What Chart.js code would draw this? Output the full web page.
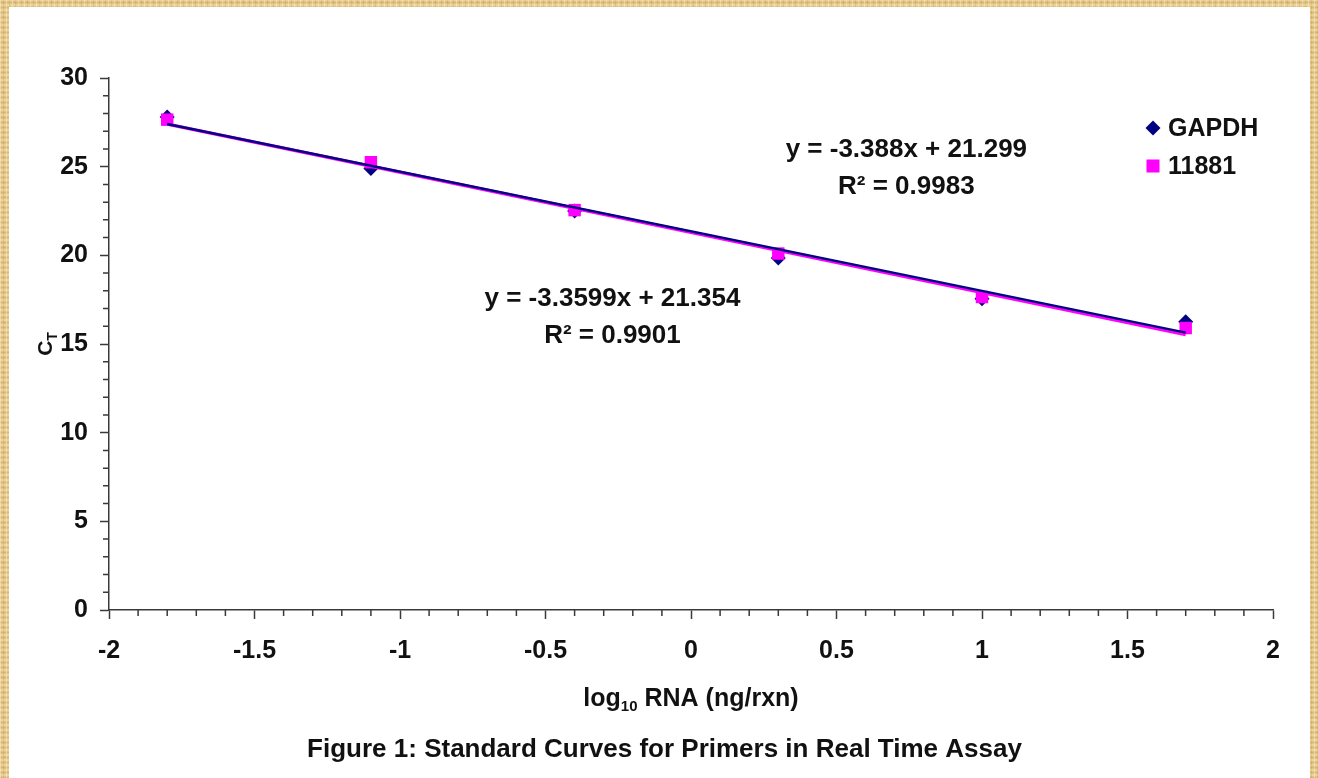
<!DOCTYPE html>
<html>
<head>
<meta charset="utf-8">
<title>Standard Curves for Primers</title>
<script src="https://cdn.jsdelivr.net/npm/chart.js@4.4.1/dist/chart.umd.min.js"></script>
<style>
    html, body { margin: 0; padding: 0; }
    body {
        width: 1318px;
        height: 778px;
        overflow: hidden;
        position: relative;
        background-color: #e2c586;
        background-image:
            repeating-linear-gradient(90deg, rgba(250, 232, 190, 0.55) 0 1px, transparent 1px 3px, rgba(170, 125, 50, 0.18) 3px 4px, transparent 4px 6px),
            repeating-linear-gradient(0deg, rgba(180, 135, 60, 0.20) 0 1px, transparent 1px 2px, rgba(255, 238, 200, 0.35) 2px 4px, transparent 4px 5px),
            repeating-linear-gradient(45deg, rgba(200, 160, 90, 0.15) 0 2px, transparent 2px 9px);
    }
    #panel {
        position: absolute;
        left: 9px;
        top: 7px;
        width: 1301px;
        height: 771px;
        background: #ffffff;
    }
    #chartBox { position: relative; width: 1301px; height: 771px; }
</style>
</head>
<body>
<div id="panel">
    <div id="chartBox"><canvas id="standardCurves"></canvas></div>
</div>
<script>
// log10 RNA (ng/rxn) for each dilution
const rnaLog = [-1.8, -1.1, -0.4, 0.3, 1.0, 1.7];
// threshold cycles per primer set
const ctGapdh = [27.8, 24.9, 22.5, 19.85, 17.55, 16.25];
const ct11881 = [27.65, 25.25, 22.55, 20.1, 17.65, 15.9];
const seriesNames = ['GAPDH', '11881'];
// linear fits, same order as seriesNames
const fitSlope = [-3.3599, -3.388];
const fitIntercept = [21.354, 21.299];
const fitRSquared = ['0.9901', '0.9983'];
const xAxisTicks = [-2, -1.5, -1, -0.5, 0, 0.5, 1, 1.5, 2];
const yAxisTicks = [0, 5, 10, 15, 20, 25, 30];

const NAVY = '#000080';
const MAGENTA = '#ff00ff';
const AXIS = '#3a3a3a';
const INK = '#111111';
const FAMILY = "'Liberation Sans', Arial, sans-serif";

const seriesColors = [NAVY, MAGENTA];
const seriesShapes = ['rectRot', 'rect'];

function fitLine(i) {
    const ends = [rnaLog[0], rnaLog[rnaLog.length - 1]];
    return ends.map(x => ({ x: x, y: fitSlope[i] * x + fitIntercept[i] }));
}

function toPoints(ys) {
    return rnaLog.map((x, i) => ({ x: x, y: ys[i] }));
}

// minor ticks, axis titles, fit equations, legend and caption
const extrasPlugin = {
    id: 'extras',
    afterDraw(chart) {
        const ctx = chart.ctx;
        const xs = chart.scales.x;
        const ys = chart.scales.y;
        const area = chart.chartArea;

        ctx.save();
        ctx.strokeStyle = AXIS;
        ctx.lineWidth = 1.5;
        ctx.beginPath();
        for (let i = -20; i <= 20; i++) {
            if (i % 5 === 0) continue;
            const px = xs.getPixelForValue(i / 10);
            ctx.moveTo(px, area.bottom);
            ctx.lineTo(px, area.bottom + 6);
        }
        for (let v = 0; v <= 30; v++) {
            if (v % 5 === 0) continue;
            const py = ys.getPixelForValue(v);
            ctx.moveTo(area.left - 6, py);
            ctx.lineTo(area.left, py);
        }
        ctx.stroke();

        ctx.fillStyle = INK;
        ctx.textBaseline = 'alphabetic';

        // x axis title with subscript
        const big = 'bold 25px ' + FAMILY;
        const small = 'bold 15px ' + FAMILY;
        ctx.font = big;
        const wLog = ctx.measureText('log').width;
        const wRest = ctx.measureText(' RNA (ng/rxn)').width;
        ctx.font = small;
        const wSub = ctx.measureText('10').width;
        const total = wLog + wSub + wRest;
        let tx = (area.left + area.right) / 2 - total / 2;
        const ty = area.bottom + 96;
        ctx.textAlign = 'left';
        ctx.font = big;
        ctx.fillText('log', tx, ty);
        ctx.font = small;
        ctx.fillText('10', tx + wLog, ty + 5);
        ctx.font = big;
        ctx.fillText(' RNA (ng/rxn)', tx + wLog + wSub, ty);

        // y axis title C with subscript T, rotated
        ctx.save();
        ctx.translate(area.left - 64, (area.top + area.bottom) / 2);
        ctx.rotate(-Math.PI / 2);
        ctx.font = 'bold 21px ' + FAMILY;
        const wC = ctx.measureText('C').width;
        ctx.font = 'bold 14px ' + FAMILY;
        const wT = ctx.measureText('T').width;
        const cx = -(wC + wT) / 2;
        ctx.font = 'bold 21px ' + FAMILY;
        ctx.fillText('C', cx, 7);
        ctx.font = 'bold 14px ' + FAMILY;
        ctx.fillText('T', cx + wC, 12);
        ctx.restore();

        // fit equations
        const eqAnchors = [{ x: -0.27, y: 17.55 }, { x: 0.74, y: 25.95 }];
        ctx.font = 'bold 26px ' + FAMILY;
        ctx.textAlign = 'center';
        ctx.textBaseline = 'middle';
        seriesNames.forEach((name, i) => {
            const ex = xs.getPixelForValue(eqAnchors[i].x);
            const ey = ys.getPixelForValue(eqAnchors[i].y);
            ctx.fillText('y = ' + fitSlope[i] + 'x + ' + fitIntercept[i], ex, ey);
            ctx.fillText('R\u00B2 = ' + fitRSquared[i], ex, ey + 37);
        });

        // legend
        ctx.textAlign = 'left';
        ctx.font = 'bold 25px ' + FAMILY;
        seriesNames.forEach((name, i) => {
            const lx = area.right - 120;
            const ly = area.top + 50 + i * 38;
            ctx.fillStyle = seriesColors[i];
            ctx.beginPath();
            if (seriesShapes[i] === 'rectRot') {
                ctx.moveTo(lx, ly - 7.5);
                ctx.lineTo(lx + 7.5, ly);
                ctx.lineTo(lx, ly + 7.5);
                ctx.lineTo(lx - 7.5, ly);
                ctx.closePath();
            } else {
                ctx.rect(lx - 6.5, ly - 6.5, 13, 13);
            }
            ctx.fill();
            ctx.fillStyle = INK;
            ctx.fillText(name, lx + 15, ly + 1);
        });

        // caption
        ctx.textAlign = 'center';
        ctx.font = 'bold 26px ' + FAMILY;
        ctx.fillText('Figure 1: Standard Curves for Primers in Real Time Assay', chart.width / 2 + 5, 743);
        ctx.restore();
    }
};

const tickFont = size => ({ family: FAMILY, size: size, weight: 'bold' });

new Chart(document.getElementById('standardCurves'), {
    type: 'scatter',
    data: {
        datasets: [
            {
                type: 'line',
                label: seriesNames[0] + ' fit',
                data: fitLine(0),
                showLine: true,
                borderColor: NAVY,
                borderWidth: 2.5,
                pointRadius: 0,
                order: 0
            },
            {
                type: 'line',
                label: seriesNames[1] + ' fit',
                data: fitLine(1),
                showLine: true,
                borderColor: MAGENTA,
                borderWidth: 3.5,
                pointRadius: 0,
                order: 1
            },
            {
                label: seriesNames[1],
                data: toPoints(ct11881),
                pointStyle: 'rect',
                pointRadius: 8.8,
                pointBackgroundColor: MAGENTA,
                pointBorderWidth: 0,
                order: 2
            },
            {
                label: seriesNames[0],
                data: toPoints(ctGapdh),
                pointStyle: 'rectRot',
                pointRadius: 7.5,
                pointBackgroundColor: NAVY,
                pointBorderWidth: 0,
                order: 3
            }
        ]
    },
    options: {
        responsive: true,
        maintainAspectRatio: false,
        animation: false,
        events: [],
        layout: { padding: { left: 0, right: 37, top: 71, bottom: 41 } },
        plugins: {
            legend: { display: false },
            tooltip: { enabled: false },
            title: { display: false }
        },
        scales: {
            x: {
                type: 'linear',
                min: -2,
                max: 2,
                afterBuildTicks: scale => { scale.ticks = xAxisTicks.map(v => ({ value: v })); },
                afterFit: scale => { scale.height = 127; },
                ticks: {
                    font: tickFont(25),
                    color: INK,
                    padding: 17,
                    maxRotation: 0,
                    autoSkip: false,
                    callback: v => String(v)
                },
                grid: { display: true, drawOnChartArea: false, drawTicks: true, tickLength: 9, tickColor: AXIS, tickWidth: 1.5 },
                border: { display: true, color: AXIS, width: 1.5 }
            },
            y: {
                min: 0,
                max: 30,
                afterBuildTicks: scale => { scale.ticks = yAxisTicks.map(v => ({ value: v })); },
                afterFit: scale => { scale.width = 100; },
                ticks: {
                    font: tickFont(25),
                    color: INK,
                    padding: 12,
                    autoSkip: false,
                    callback: v => String(v)
                },
                grid: { display: true, drawOnChartArea: false, drawTicks: true, tickLength: 9, tickColor: AXIS, tickWidth: 1.5 },
                border: { display: true, color: AXIS, width: 1.5 }
            }
        }
    },
    plugins: [extrasPlugin]
});
</script>
</body>
</html>
